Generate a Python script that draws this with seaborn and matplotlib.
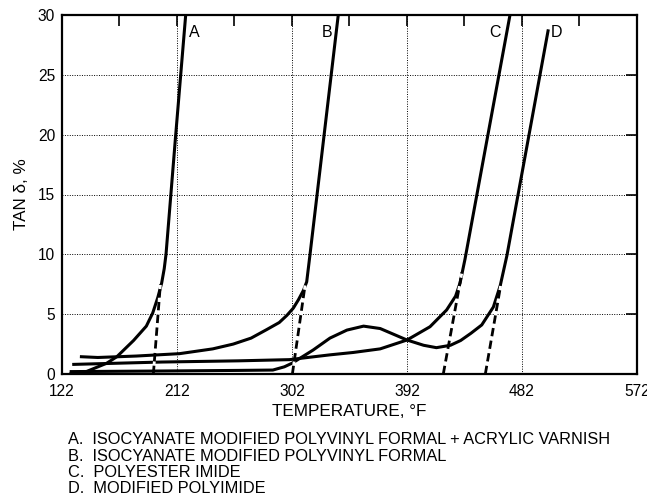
import numpy as np
import pandas as pd
import matplotlib
matplotlib.use("Agg")
import matplotlib.pyplot as plt
import seaborn as sns

# curve data (temperature in F, tan delta in %)
a_temp = [128, 141, 157, 165, 178, 188, 193, 197, 200, 202, 203.4, 211, 218.8]
a_tan = [0.05, 0.2, 0.9, 1.45, 2.8, 4.0, 5.1, 6.4, 7.6, 8.8, 10, 20, 30]

b_temp = [136, 150, 180, 214, 240, 256, 270, 282, 292, 298, 303, 307, 311, 313.5, 316, 338.2]
b_tan = [1.45, 1.38, 1.5, 1.7, 2.1, 2.5, 3.0, 3.7, 4.3, 4.9, 5.5, 6.2, 7.0, 7.7, 9.9, 30]

c_temp = [130, 200, 260, 300, 331.7, 350, 371, 392, 410, 423, 430, 433.5, 437.4, 472.6]
c_tan = [0.8, 1.0, 1.1, 1.2, 1.6, 1.8, 2.1, 2.84, 3.95, 5.35, 6.5, 7.6, 9.6, 30]

d_temp = [128, 200, 260, 287, 296, 302, 308, 318.5, 331.7, 345, 358, 371, 392, 405,
          415, 426, 434, 442, 450.5, 459.6, 465, 470.2, 502.6]
d_tan = [0.2, 0.25, 0.3, 0.33, 0.6, 0.9, 1.3, 2.0, 3.0, 3.67, 4.0, 3.8, 2.84, 2.4,
         2.2, 2.4, 2.8, 3.4, 4.1, 5.6, 7.4, 9.9, 28.8]

# dashed onset extrapolations
tangent_names = ["A", "B", "C", "D"]
tangent_temp = [[193.5, 199], [302.3, 312.2], [420.4, 435], [453.3, 465.3]]
tangent_tan = [[0, 7.5], [0, 7.4], [0, 8.5], [0, 7.4]]

label_names = ["A", "B", "C", "D"]
label_temp = [225.3, 329.6, 460.9, 509]
label_tan = [28.5, 28.5, 28.5, 28.5]

x_ticks = [122, 212, 302, 392, 482, 572]
x_minor = [167, 257, 347, 437, 527]
y_ticks = [0, 5, 10, 15, 20, 25, 30]

caption = ["A.  ISOCYANATE MODIFIED POLYVINYL FORMAL + ACRYLIC VARNISH",
           "B.  ISOCYANATE MODIFIED POLYVINYL FORMAL",
           "C.  POLYESTER IMIDE",
           "D.  MODIFIED POLYIMIDE"]

sns.set_style("white")
plt.rcParams['font.family'] = ['Liberation Sans', 'DejaVu Sans']
plt.rcParams['text.color'] = 'black'
plt.rcParams['axes.labelcolor'] = 'black'
plt.rcParams['xtick.color'] = 'black'
plt.rcParams['ytick.color'] = 'black'

fig = plt.figure(figsize=(6.47, 4.96), dpi=100)
ax = fig.add_axes([62/647, 1-374/496, (637-62)/647, (374-15)/496])

for xs, ys in [(a_temp, a_tan), (b_temp, b_tan), (c_temp, c_tan), (d_temp, d_tan)]:
    df = pd.DataFrame({"temp": xs, "tan": ys})
    sns.lineplot(data=df, x="temp", y="tan", sort=False, ax=ax, color="black",
                 lw=2.2, solid_capstyle="butt", zorder=3)

for xs, ys in zip(tangent_temp, tangent_tan):
    df = pd.DataFrame({"temp": xs, "tan": ys})
    sns.lineplot(data=df, x="temp", y="tan", sort=False, ax=ax, color="black",
                 lw=2.0, dashes=False, linestyle=(0, (3, 1.6)), gapcolor="white", zorder=4)

for name, x, y in zip(label_names, label_temp, label_tan):
    ax.text(x, y, name, fontsize=11.5, ha="center", va="center", zorder=5)

ax.set_xlim(122, 572)
ax.set_ylim(0, 30)
ax.set_xticks(x_ticks)
ax.set_xticks(x_minor, minor=True)
ax.set_yticks(y_ticks)
ax.tick_params(axis="both", which="both", direction="in", top=True, right=True,
               length=8, width=1.2, labelsize=11.2)
ax.tick_params(axis="x", pad=7)
ax.tick_params(axis="y", pad=5)
ax.grid(which="major", linestyle=(0, (1, 1.5)), color="black", lw=0.7)
ax.set_axisbelow(True)
for s in ax.spines.values():
    s.set_linewidth(1.6)
    s.set_color("black")

ax.set_xlabel("TEMPERATURE, °F", fontsize=12.3, labelpad=4)
ax.set_ylabel("TAN δ, %", fontsize=12.3, labelpad=6)

for i, line in enumerate(caption):
    fig.text(68/647, 1-(440 + i*16.3)/496, line, fontsize=11.8, va="center", ha="left")

fig.savefig("out.png", dpi=100)
